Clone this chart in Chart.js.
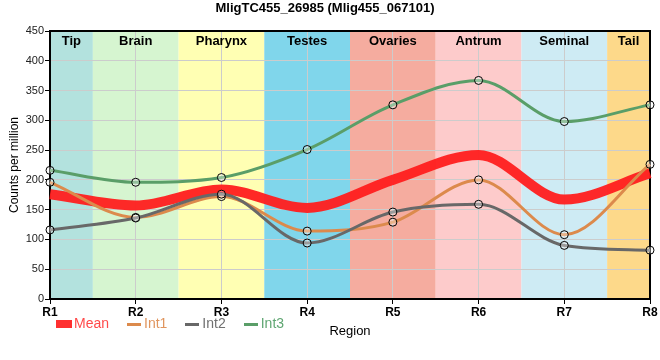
<!DOCTYPE html>
<html><head><meta charset="utf-8">
<script src="https://cdn.jsdelivr.net/npm/chart.js@4/dist/chart.umd.min.js"></script>
<style>html,body{margin:0;padding:0;background:#fff}#wrap{width:660px;height:360px}</style>
</head><body><div id="wrap"><canvas id="c"></canvas></div>
<script>
const categories = ['R1','R2','R3','R4','R5','R6','R7','R8'];
const regionNames = ['Tip','Brain','Pharynx','Testes','Ovaries','Antrum','Seminal','Tail'];
const regionColors = ['#b3e2de','#d6f5d0','#ffffb3','#80d6eb','#f5ac9f','#fdcbcb','#ceebf4','#fdd98a'];
const meanValues = [176,157,184,153,200,242,167,211];
const int1Values = [196,137,172,114,129,200,108,226];
const int2Values = [116,136,176,94,146,159,90,82];
const int3Values = [216,196,204,251,326,367,298,326];
const yMin = 0, yMax = 450, yStep = 50;

const FONT = "'Liberation Sans', Arial, sans-serif";
const lineColors = ['rgba(255,30,30,0.95)','#dc8a4c','#686868','#5a9e68'];
const legendTextColors = ['#ff4a4a','#e0955e','#707070','#5fa672'];
const LEG_PAD = 22;

function icon(w,h,color){
  const c=document.createElement('canvas'); c.width=w; c.height=h;
  const g=c.getContext('2d'); g.fillStyle=color; g.fillRect(0,0,w,h); return c;
}
const icons = [icon(16,8,'#ff3030'), icon(14,3,'#dc8a4c'), icon(14,3,'#686868'), icon(14,3,'#5a9e68')];

const bandPlugin = {
  id:'bands',
  beforeDraw(chart){
    const {ctx, chartArea:a, scales:{x}} = chart;
    ctx.save();
    regionNames.forEach((n,i)=>{
      const l = Math.max(a.left, x.getPixelForValue(i-0.5));
      const r = Math.min(a.right, x.getPixelForValue(i+0.5));
      ctx.fillStyle = regionColors[i];
      ctx.fillRect(l, a.top, r-l, a.bottom-a.top);
    });
    ctx.restore();
  },
  beforeDatasetsDraw(chart){
    const {ctx, chartArea:a, scales:{x}} = chart;
    ctx.save();
    ctx.font = "bold 13px " + FONT;
    ctx.fillStyle = '#000';
    ctx.textAlign = 'center';
    ctx.textBaseline = 'middle';
    regionNames.forEach((n,i)=>{
      const l = Math.max(a.left, x.getPixelForValue(i-0.5));
      const r = Math.min(a.right, x.getPixelForValue(i+0.5));
      ctx.fillText(n, (l+r)/2, a.top + 10);
    });
    ctx.strokeStyle = '#000';
    ctx.lineWidth = 2;
    ctx.strokeRect(a.left, a.top, a.right-a.left, a.bottom-a.top);
    ctx.restore();
  },
  afterLayout(chart){
    const lg = chart.legend, x = chart.scales.x, a = chart.chartArea;
    const w = lg.width, h = lg.height;
    lg.top = a.bottom + 25 - 7 - LEG_PAD;
    lg.bottom = lg.top + h;
    lg.left = 61 - LEG_PAD;
    lg.right = lg.left + w;
    x.bottom = a.bottom + 40;
    x.height = x.bottom - x.top;
  }
};

const commonPt = {pointRadius:4, pointHoverRadius:4, pointBorderColor:'#000', pointBorderWidth:1, pointBackgroundColor:'rgba(255,255,255,0.35)'};

new Chart(document.getElementById('c'), {
  type:'line',
  data:{
    labels: categories,
    datasets:[
      {label:'Mean', data:meanValues, borderColor:lineColors[0], borderWidth:10, pointRadius:0, pointHoverRadius:0, cubicInterpolationMode:'monotone', order:4, clip:false},
      Object.assign({label:'Int1', data:int1Values, borderColor:lineColors[1], borderWidth:3, cubicInterpolationMode:'monotone', order:3, clip:false}, commonPt),
      Object.assign({label:'Int2', data:int2Values, borderColor:lineColors[2], borderWidth:3, cubicInterpolationMode:'monotone', order:2, clip:false}, commonPt),
      Object.assign({label:'Int3', data:int3Values, borderColor:lineColors[3], borderWidth:3, cubicInterpolationMode:'monotone', order:1, clip:false}, commonPt)
    ]
  },
  options:{
    responsive:true, maintainAspectRatio:false, animation:false,
    devicePixelRatio:1,
    layout:{padding:{left:0,right:10,top:0,bottom:0}},
    plugins:{
      title:{display:true, text:'MligTC455_26985 (Mlig455_067101)', color:'#000',
        font:{family:FONT, size:13, weight:'bold'}, padding:{top:1,bottom:14.4}},
      legend:{position:'bottom', align:'start',
        labels:{usePointStyle:true, pointStyleWidth:6, padding:LEG_PAD,
          font:{family:FONT, size:14},
          generateLabels(chart){
            return chart.data.datasets.map((ds,i)=>({text:ds.label, fontColor:legendTextColors[i], pointStyle:icons[i],
              datasetIndex:i, hidden:false, lineWidth:0, strokeStyle:'transparent', fillStyle:lineColors[i]}));
          }}},
      tooltip:{enabled:false}
    },
    scales:{
      x:{type:'category', offset:false,
        grid:{color:'#cccccc', lineWidth:1, tickColor:'#000', tickLength:5, drawTicks:true},
        border:{color:'#000', width:2},
        ticks:{color:'#000', font:{family:FONT, size:12, weight:'bold'}, padding:1, maxRotation:0, autoSkip:false},
        title:{display:true, text:'Region', color:'#000', font:{family:FONT, size:13}, padding:{top:0,bottom:0}},
        afterFit(s){ s.height = 360 - 299 - s.chart.legend.height; }
      },
      y:{min:yMin, max:yMax,
        grid:{color:'#cccccc', lineWidth:1, tickColor:'#000', tickLength:5},
        border:{color:'#000', width:2},
        ticks:{stepSize:yStep, color:'#222', font:{family:FONT, size:11}, padding:1},
        title:{display:true, text:'Counts per million', color:'#000', font:{family:FONT, size:12}, padding:{top:7,bottom:0}},
        afterFit(s){ s.width = 50; }
      }
    }
  },
  plugins:[bandPlugin]
});
</script>
</body></html>
